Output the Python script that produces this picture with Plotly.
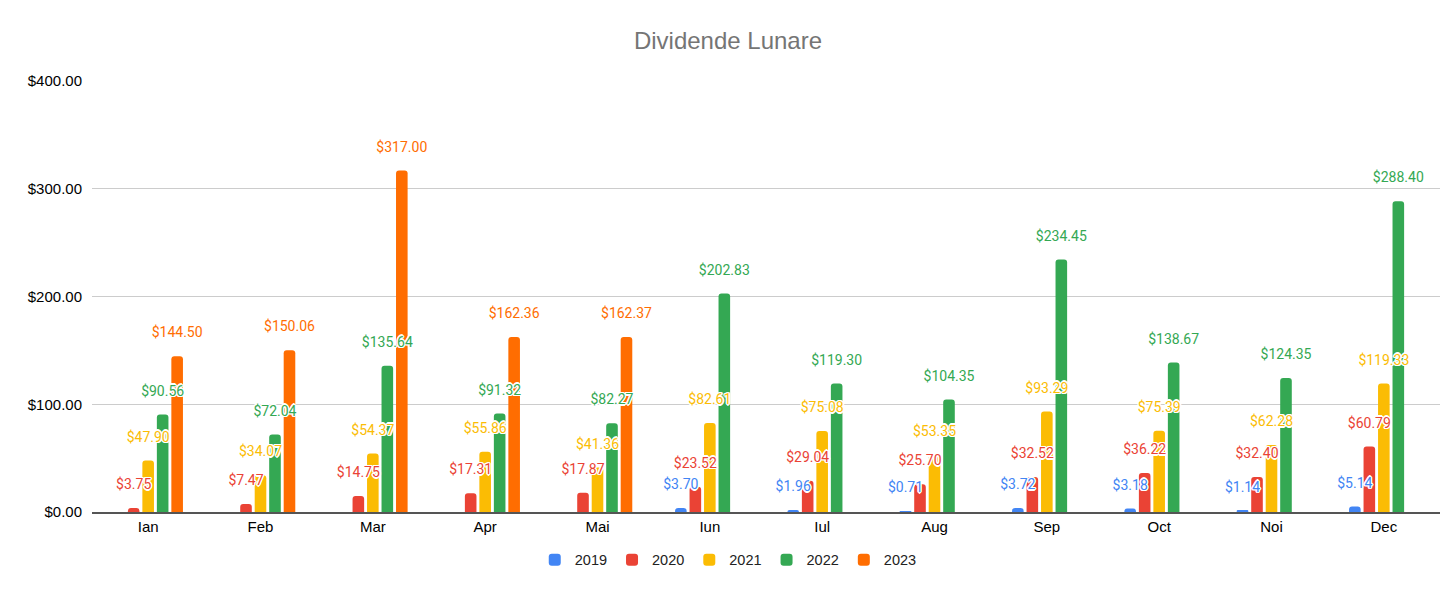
import plotly.graph_objects as go

months = ["Ian", "Feb", "Mar", "Apr", "Mai", "Iun", "Iul", "Aug", "Sep", "Oct", "Noi", "Dec"]
y2019 = [None, None, None, None, None, 3.70, 1.96, 0.71, 3.72, 3.18, 1.14, 5.14]
y2020 = [3.75, 7.47, 14.75, 17.31, 17.87, 23.52, 29.04, 25.70, 32.52, 36.22, 32.40, 60.79]
y2021 = [47.90, 34.07, 54.37, 55.86, 41.36, 82.61, 75.08, 53.35, 93.29, 75.39, 62.28, 119.33]
y2022 = [90.56, 72.04, 135.64, 91.32, 82.27, 202.83, 119.30, 104.35, 234.45, 138.67, 124.35, 288.40]
y2023 = [144.50, 150.06, 317.00, 162.36, 162.37, None, None, None, None, None, None, None]

series = [("2019", y2019, "#4285F4"), ("2020", y2020, "#EA4335"), ("2021", y2021, "#FBBC04"),
          ("2022", y2022, "#34A853"), ("2023", y2023, "#FF6D01")]

halo = ("1px 1px 0 #fff, -1px -1px 0 #fff, 1px -1px 0 #fff, -1px 1px 0 #fff, "
        "0 1.5px 0 #fff, 0 -1.5px 0 #fff, 1.5px 0 0 #fff, -1.5px 0 0 #fff")

fig = go.Figure()
for name, vals, col in series:
    fig.add_trace(go.Bar(
        name=name, x=months, y=vals, marker_color=col, offsetgroup=name,
        marker_line_width=0,
    ))
for name, vals, col in series:
    fig.add_trace(go.Scatter(
        x=months, y=vals, mode="markers+text", offsetgroup=name, showlegend=False,
        marker=dict(size=23, opacity=0, color=col),
        text=[None if v is None else f"${v:,.2f}" for v in vals],
        textposition="top center", cliponaxis=False,
        textfont=dict(family="Roboto", size=14, color=col, shadow=halo),
        hoverinfo="skip",
    ))

fig.update_layout(
    width=1456, height=598,
    barmode="group", bargap=0.355, bargroupgap=0.2, barcornerradius=3,
    scattermode="group", scattergap=0.355,
    paper_bgcolor="white", plot_bgcolor="white",
    margin=dict(l=84, r=24, t=73, b=94),
    title=dict(text="Dividende Lunare", x=0.4945, xanchor="center", xref="container",
               y=0.946, yanchor="middle",
               font=dict(family="Liberation Sans, Arial", size=24, color="#757575")),
    font=dict(family="Liberation Sans, Arial", size=15, color="#222"),
    legend=dict(orientation="h", x=0.472, xanchor="center", y=-0.111, yanchor="middle",
                font=dict(size=14.5, color="#222"), itemwidth=30, traceorder="normal"),
    yaxis=dict(range=[0, 400], dtick=100, tickformat="$,.2f", showgrid=True, gridcolor="#cccccc",
               zeroline=False, ticks="", ticklabelstandoff=9, fixedrange=True,
               tickfont=dict(color="#000")),
    xaxis=dict(showline=True, linecolor="#555555", linewidth=2, ticks="", fixedrange=True,
               tickfont=dict(color="#000")),
)
fig.write_html("out.html")
